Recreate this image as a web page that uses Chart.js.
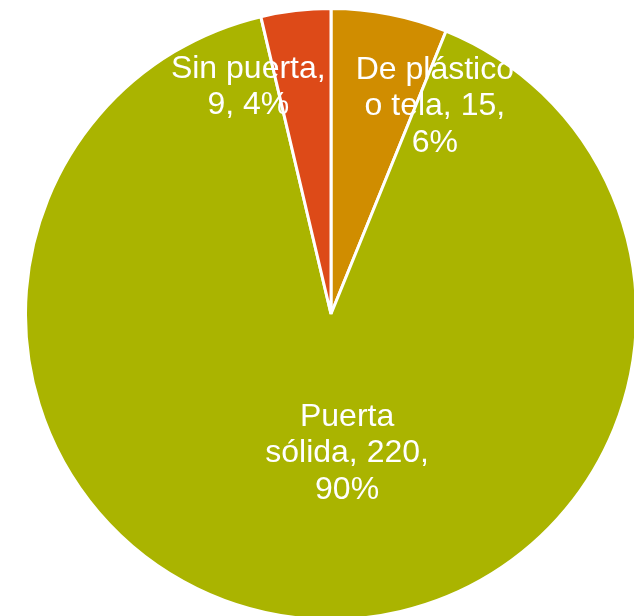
<!DOCTYPE html>
<html>
<head>
<meta charset="utf-8">
<script src="https://cdn.jsdelivr.net/npm/chart.js@4"></script>
<style>
  html, body { margin: 0; padding: 0; background: #fff; }
  #wrap { width: 634px; height: 616px; overflow: hidden; position: relative; }
  canvas { position: absolute; left: 0; top: 0; }
</style>
</head>
<body>
<div id="wrap"><canvas id="pieChart" width="638" height="621"></canvas></div>
<script>
// data
const categories = ['De plástico o tela', 'Puerta sólida', 'Sin puerta'];
const values = [15, 220, 9];
const percents = [6, 90, 4];
const labelLines = [
    ['De plástico', 'o tela, 15,', '6%'],
    ['Puerta', 'sólida, 220,', '90%'],
    ['Sin puerta,', '9, 4%']
];
const colors = ['#D08D00', '#AAB400', '#DD4A18'];

// where each label sits: angle shift (deg) from slice middle, fraction of radius
const labelPlace = [
    { shift: 15.5, frac: 0.76 },
    { shift: -11, frac: 0.46 },
    { shift: -13.4, frac: 0.79 }
];

const labelPlugin = {
    id: 'sliceLabels',
    afterDatasetsDraw(chart) {
        const ctx = chart.ctx;
        const meta = chart.getDatasetMeta(0);
        ctx.save();
        ctx.fillStyle = '#ffffff';
        ctx.font = '32px "Liberation Sans", Arial, sans-serif';
        ctx.textAlign = 'center';
        ctx.textBaseline = 'middle';
        const lh = 36.5;
        meta.data.forEach((arc, i) => {
            const p = arc.getProps(['x', 'y', 'startAngle', 'endAngle', 'outerRadius'], true);
            const mid = (p.startAngle + p.endAngle) / 2 + labelPlace[i].shift * Math.PI / 180;
            const r = p.outerRadius * labelPlace[i].frac;
            const cx = p.x + Math.cos(mid) * r;
            const cy = p.y + Math.sin(mid) * r;
            const lines = labelLines[i];
            const y0 = cy - (lines.length - 1) * lh / 2;
            lines.forEach((t, j) => ctx.fillText(t, cx, y0 + j * lh));
        });
        ctx.restore();
    }
};

const ctx = document.getElementById('pieChart').getContext('2d');
new Chart(ctx, {
    type: 'pie',
    data: {
        labels: categories,
        datasets: [{
            data: values,
            backgroundColor: colors,
            borderColor: '#ffffff',
            borderWidth: 3
        }]
    },
    options: {
        responsive: false,
        animation: false,
        layout: { padding: { left: 24, top: 7, right: 0, bottom: 0 } },
        plugins: {
            legend: { display: false },
            tooltip: { enabled: false }
        }
    },
    plugins: [labelPlugin]
});
</script>
</body>
</html>
